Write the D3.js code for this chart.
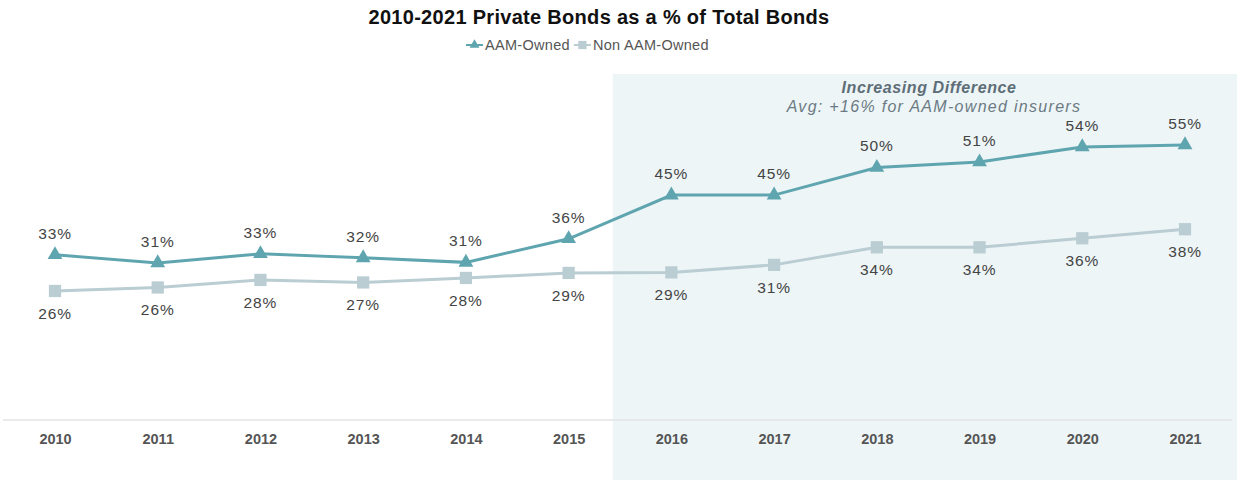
<!DOCTYPE html>
<html>
<head>
<meta charset="utf-8">
<script src="https://cdn.jsdelivr.net/npm/d3@7"></script>
<style>
  body { margin: 0; background: #fff; }
  svg { display: block; font-family: "Liberation Sans", Arial, sans-serif; }
</style>
</head>
<body>
<div id="chart"></div>
<script>
// chart data
const years = ['2010', '2011', '2012', '2013', '2014', '2015', '2016', '2017', '2018', '2019', '2020', '2021']
const aamOwned = [0.329, 0.313, 0.331, 0.323, 0.314, 0.361, 0.448, 0.448, 0.503, 0.514, 0.544, 0.548]
const nonAamOwned = [0.257, 0.264, 0.279, 0.274, 0.283, 0.293, 0.294, 0.309, 0.344, 0.344, 0.362, 0.380]
const seriesNames = ['AAM-Owned', 'Non AAM-Owned']
const highlightStart = '2016'
const noteTitle = 'Increasing Difference'
const noteText = 'Avg: +16% for AAM-owned insurers'

const width = 1241, height = 480
const aamColor = '#5fa5af', nonColor = '#b9cdd3'

const svg = d3.select('#chart').append('svg')
    .attr('width', width)
    .attr('height', height)

const x = d3.scalePoint()
    .domain(years)
    .range([55, 1185])

const y = d3.scaleLinear()
    .domain([0, 0.6])
    .range([420, 420 - 0.6 * 502])

const step = x.step()

// shaded area for the later years
svg.append('rect')
    .attr('x', x(highlightStart) - step * 0.57)
    .attr('y', 74)
    .attr('width', width - 4 - (x(highlightStart) - step * 0.57))
    .attr('height', height - 74)
    .attr('fill', '#edf5f7')

svg.append('text')
    .attr('x', 929)
    .attr('y', 93)
    .attr('text-anchor', 'middle')
    .attr('font-size', 16)
    .attr('letter-spacing', 0.6)
    .attr('font-weight', 'bold')
    .attr('font-style', 'italic')
    .attr('fill', '#5e6e78')
    .text(noteTitle)

svg.append('text')
    .attr('x', 934)
    .attr('y', 112)
    .attr('text-anchor', 'middle')
    .attr('font-size', 16)
    .attr('letter-spacing', 1.3)
    .attr('font-style', 'italic')
    .attr('fill', '#6c7a83')
    .text(noteText)

// baseline + year labels
svg.append('line')
    .attr('x1', 3).attr('x2', 1232)
    .attr('y1', y(0)).attr('y2', y(0))
    .attr('stroke', '#e2e4e4')
    .attr('stroke-width', 1.5)

const xAxis = svg.append('g')
    .attr('transform', `translate(0, ${y(0)})`)
    .call(d3.axisBottom(x).tickSize(0).tickPadding(14))
xAxis.select('.domain').remove()
xAxis.selectAll('text')
    .attr('font-size', 14.5)
    .attr('font-weight', 'bold')
    .attr('fill', '#555')
    .attr('font-family', '"Liberation Sans", Arial, sans-serif')

// title
svg.append('text')
    .attr('x', 599)
    .attr('y', 24)
    .attr('text-anchor', 'middle')
    .attr('font-size', 20)
    .attr('letter-spacing', 0.3)
    .attr('font-weight', 'bold')
    .attr('fill', '#111')
    .text('2010-2021 Private Bonds as a % of Total Bonds')

const series = [
    { name: seriesNames[0], values: aamOwned, color: aamColor, symbol: d3.symbolTriangle, size: 95, labelDy: -16 },
    { name: seriesNames[1], values: nonAamOwned, color: nonColor, symbol: d3.symbolSquare, size: 150, labelDy: 28 }
]

const line = d3.line()
    .x((d, i) => x(years[i]))
    .y(d => y(d))

series.slice().reverse().forEach(function (s) {
    svg.append('path')
        .datum(s.values)
        .attr('d', line)
        .attr('fill', 'none')
        .attr('stroke', s.color)
        .attr('stroke-width', 3)

    svg.append('g')
        .selectAll('path')
        .data(s.values)
        .join('path')
        .attr('d', d3.symbol().type(s.symbol).size(s.size))
        .attr('transform', (d, i) => `translate(${x(years[i])}, ${y(d)})`)
        .attr('fill', s.color)

    svg.append('g')
        .selectAll('text')
        .data(s.values)
        .join('text')
        .attr('x', (d, i) => x(years[i]))
        .attr('y', d => y(d) + s.labelDy)
        .attr('text-anchor', 'middle')
        .attr('font-size', 15.5)
        .attr('letter-spacing', 0.9)
        .attr('fill', '#444')
        .text(d => Math.round(d * 100) + '%')
})

// legend
const legend = svg.append('g').attr('transform', 'translate(466, 45)')
let lx = 0
series.forEach(function (s) {
    const g = legend.append('g').attr('transform', `translate(${lx}, 0)`)
    g.append('line')
        .attr('x1', 0).attr('x2', 17)
        .attr('stroke', s.color)
        .attr('stroke-width', 2)
    g.append('path')
        .attr('d', d3.symbol().type(s.symbol).size(s.size * 0.45))
        .attr('transform', 'translate(8.5, 0)')
        .attr('fill', s.color)
    const t = g.append('text')
        .attr('x', 19)
        .attr('y', 5)
        .attr('font-size', 14.5)
        .attr('letter-spacing', 0.3)
        .attr('fill', '#555')
        .text(s.name)
    lx += 19 + t.node().getComputedTextLength() + 4
})
</script>
</body>
</html>
